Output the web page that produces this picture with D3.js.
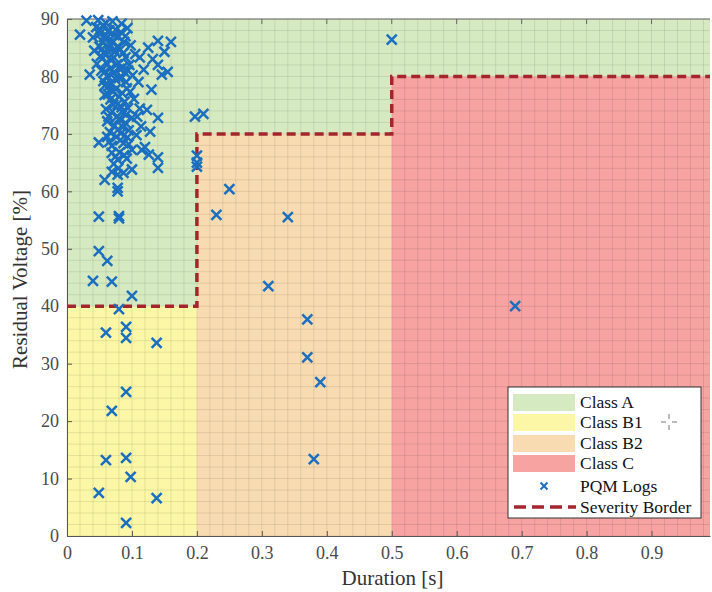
<!DOCTYPE html>
<html>
<head>
<meta charset="utf-8">
<script src="https://cdn.jsdelivr.net/npm/d3@7"></script>
<style>
  body { margin: 0; background: #fff; }
  svg text { font-family: "Liberation Serif", "Times New Roman", serif; }
</style>
</head>
<body>
<svg id="chart" width="712" height="592"></svg>
<script>
// class regions, [x0, x1, y0, y1] in data units
const classNames = ["Class A", "Class B1", "Class B2", "Class C"];
const classColors = ["#d6eac1", "#fbf7a6", "#f8dbb0", "#f6a3a2"];
const classRegions = [
    [[0, 0.2, 40, 90], [0.2, 0.5, 70, 90], [0.5, 0.99, 80, 90]],
    [[0, 0.2, 0, 40]],
    [[0.2, 0.5, 0, 70]],
    [[0.5, 0.99, 0, 80]]
];

// severity border (duration s, residual voltage %)
const borderX = [0, 0.2, 0.2, 0.5, 0.5, 0.99];
const borderY = [40, 40, 70, 70, 80, 80];

const xTicks = [0, 0.1, 0.2, 0.3, 0.4, 0.5, 0.6, 0.7, 0.8, 0.9];
const yTicks = [0, 10, 20, 30, 40, 50, 60, 70, 80, 90];

// PQM logs [duration, residual voltage]
const pqmLogs = [
    [0.02, 87.3], [0.03, 89.7], [0.035, 80.3], [0.04, 86.8], [0.042, 84.5], [0.045, 88.6], [0.046, 82.2], [0.048, 89.8],
    [0.05, 87.4], [0.05, 85.2], [0.052, 83.6], [0.053, 81.0], [0.055, 88.9], [0.055, 86.1], [0.056, 79.2], [0.057, 84.0],
    [0.058, 76.8], [0.06, 89.3], [0.06, 82.4], [0.06, 74.3], [0.061, 86.7], [0.062, 80.1], [0.062, 72.2], [0.064, 84.9],
    [0.065, 78.4], [0.065, 88.0], [0.066, 70.3], [0.067, 76.0], [0.068, 82.8], [0.069, 67.9], [0.07, 89.6], [0.07, 86.2],
    [0.07, 73.9], [0.071, 80.6], [0.072, 64.8], [0.073, 71.4], [0.074, 84.3], [0.075, 77.8], [0.075, 88.1], [0.076, 69.5],
    [0.077, 82.1], [0.078, 75.2], [0.078, 62.9], [0.079, 86.9], [0.08, 72.6], [0.08, 79.7], [0.081, 66.8], [0.082, 84.7],
    [0.083, 70.1], [0.084, 89.2], [0.085, 77.1], [0.085, 73.8], [0.086, 81.6], [0.087, 68.4], [0.088, 86.0], [0.089, 75.6],
    [0.09, 71.9], [0.09, 83.3], [0.091, 79.0], [0.092, 65.7], [0.093, 88.4], [0.094, 74.5], [0.095, 70.6], [0.096, 82.0],
    [0.097, 77.3], [0.098, 85.4], [0.1, 72.8], [0.1, 67.2], [0.101, 80.2], [0.103, 76.1], [0.105, 83.9], [0.107, 69.8],
    [0.11, 79.0], [0.112, 74.4], [0.114, 71.3], [0.118, 81.2], [0.12, 67.7],
    [0.051, 88.2], [0.054, 84.8], [0.057, 86.9], [0.059, 80.9], [0.063, 87.8], [0.066, 85.6], [0.067, 81.4], [0.068, 78.9],
    [0.071, 75.1], [0.072, 83.3], [0.073, 87.2], [0.074, 79.6], [0.076, 72.9], [0.077, 85.1], [0.079, 70.8], [0.08, 76.5],
    [0.081, 81.3], [0.082, 68.9], [0.083, 87.7], [0.084, 74.6], [0.085, 79.8], [0.086, 71.2], [0.087, 84.1], [0.088, 66.3],
    [0.089, 80.7], [0.09, 87.0], [0.091, 73.3], [0.092, 77.9], [0.093, 69.4], [0.094, 81.0], [0.063, 76.9], [0.064, 73.0],
    [0.065, 68.6], [0.07, 77.4], [0.058, 78.4], [0.061, 83.9], [0.075, 66.1], [0.079, 64.0], [0.087, 63.2], [0.095, 68.2],
    [0.112, 83.3], [0.125, 85.0], [0.132, 83.0], [0.14, 86.2], [0.14, 82.0], [0.15, 84.3], [0.16, 86.0], [0.155, 80.8],
    [0.146, 80.3], [0.13, 77.7], [0.123, 74.2], [0.108, 73.0], [0.14, 72.8], [0.128, 70.4], [0.115, 67.2], [0.126, 66.4],
    [0.14, 65.9], [0.14, 64.1], [0.10, 63.8], [0.062, 69.5], [0.049, 68.5], [0.069, 66.7], [0.078, 65.5], [0.069, 63.4],
    [0.058, 62.0], [0.078, 60.6], [0.078, 60.0], [0.049, 55.6], [0.08, 55.7], [0.08, 55.3],
    [0.049, 49.6], [0.062, 47.9], [0.04, 44.4], [0.069, 44.3], [0.10, 41.8], [0.08, 39.5],
    [0.06, 35.4], [0.091, 36.4], [0.091, 34.5], [0.138, 33.6], [0.091, 25.1], [0.069, 21.8],
    [0.06, 13.2], [0.091, 13.6], [0.098, 10.3], [0.049, 7.5], [0.138, 6.6], [0.091, 2.3],
    [0.197, 73.0], [0.21, 73.5], [0.2, 66.2], [0.2, 65.0], [0.2, 64.3],
    [0.25, 60.4], [0.23, 55.9], [0.34, 55.5], [0.31, 43.5], [0.37, 37.7], [0.37, 31.1],
    [0.39, 26.8], [0.38, 13.4], [0.5, 86.4], [0.69, 40.0]
];

const svg = d3.select("#chart");
const margin = {left: 67, top: 19, right: 2, bottom: 56};
const W = 712, H = 592;
const serif = "'Liberation Serif', 'Times New Roman', serif";

const x = d3.scaleLinear().domain([0, 0.99]).range([margin.left, W - margin.right]);
const y = d3.scaleLinear().domain([0, 90]).range([H - margin.bottom, margin.top]);

svg.append("rect").attr("width", W).attr("height", H).attr("fill", "#fff");

//regions
const regionGroup = svg.append("g").attr("class", "regions");
classRegions.forEach((rects, i) => {
    regionGroup.selectAll(`.r${i}`)
        .data(rects)
    .join("rect")
        .attr("x", d => x(d[0]))
        .attr("y", d => y(d[3]))
        .attr("width", d => x(d[1]) - x(d[0]))
        .attr("height", d => y(d[2]) - y(d[3]))
        .attr("fill", classColors[i]);
});

//grid, minor every 0.02 / 2, major every 0.1 / 10
const minorX = d3.range(0, 99, 2).map(v => v / 100);
const minorY = d3.range(0, 91, 2);
const grid = svg.append("g").attr("class", "grid");
grid.selectAll(".mx")
    .data(minorX)
.join("line")
    .attr("x1", d => x(d)).attr("x2", d => x(d))
    .attr("y1", y(0)).attr("y2", y(90))
    .attr("stroke", "rgba(0,0,0,0.09)")
    .attr("stroke-width", 1);
grid.selectAll(".my")
    .data(minorY)
.join("line")
    .attr("x1", x(0)).attr("x2", x(0.99))
    .attr("y1", d => y(d)).attr("y2", d => y(d))
    .attr("stroke", "rgba(0,0,0,0.09)")
    .attr("stroke-width", 1);

//axes
const xAxis = svg.append("g")
    .attr("transform", `translate(0,${y(0)})`)
    .call(d3.axisBottom(x).tickValues(xTicks).tickSizeInner(-5).tickSizeOuter(0)
        .tickFormat(d => d === 0 ? "0" : d3.format(".1f")(d)).tickPadding(9));
const yAxis = svg.append("g")
    .attr("transform", `translate(${x(0)},0)`)
    .call(d3.axisLeft(y).tickValues(yTicks).tickSizeInner(-5).tickSizeOuter(0).tickPadding(8));
[xAxis, yAxis].forEach(a => {
    a.attr("font-family", serif);
    a.select(".domain").attr("stroke", "#555");
    a.selectAll(".tick line").attr("stroke", "#555");
    a.selectAll(".tick text")
        .attr("fill", "#4a4a4a")
        .style("font-size", "18px")
        .style("font-family", serif);
});
xAxis.selectAll(".tick text").attr("dy", "0.8em");
// top frame
svg.append("line")
    .attr("x1", x(0)).attr("x2", x(0.99))
    .attr("y1", y(90)).attr("y2", y(90))
    .attr("stroke", "#666");
svg.selectAll(".ttick")
    .data(xTicks.slice(1))
.join("line")
    .attr("x1", d => x(d)).attr("x2", d => x(d))
    .attr("y1", y(90)).attr("y2", y(90) + 5)
    .attr("stroke", "#666");

//severity border
const border = borderX.map((v, i) => [v, borderY[i]]);
svg.append("path")
    .datum(border)
    .attr("d", d3.line().x(d => x(d[0])).y(d => y(d[1])))
    .attr("fill", "none")
    .attr("stroke", "#a3262d")
    .attr("stroke-width", 3.5)
    .attr("stroke-dasharray", "9,5");

//PQM log markers
const cross = s => `M${-s},${-s}L${s},${s}M${-s},${s}L${s},${-s}`;
svg.append("g")
    .selectAll("path")
    .data(pqmLogs)
.join("path")
    .attr("transform", d => `translate(${x(d[0])},${y(d[1])})`)
    .attr("d", cross(5))
    .attr("stroke", "#1b6fc0")
    .attr("stroke-width", 2.5)
    .attr("fill", "none");

//legend
const lg = svg.append("g").attr("transform", "translate(508,387)");
lg.append("rect")
    .attr("width", 193).attr("height", 131)
    .attr("fill", "#fff").attr("stroke", "#333").attr("stroke-width", 1);
const rowY = [15, 35, 56, 76, 99, 120];
classNames.forEach((name, i) => {
    lg.append("rect")
        .attr("x", 5).attr("y", rowY[i] - 8)
        .attr("width", 62).attr("height", 17)
        .attr("fill", classColors[i]);
});
const legendLabels = classNames.concat(["PQM Logs", "Severity Border"]);
lg.selectAll("text")
    .data(legendLabels)
.join("text")
    .attr("x", 72)
    .attr("y", (d, i) => rowY[i])
    .attr("dy", "0.35em")
    .attr("fill", "#111")
    .style("font-size", "17.5px")
    .style("font-family", serif)
    .text(d => d);
lg.append("path")
    .attr("transform", `translate(36,${rowY[4]})`)
    .attr("d", cross(3.5))
    .attr("stroke", "#1b6fc0").attr("stroke-width", 2);
lg.append("line")
    .attr("x1", 6).attr("x2", 68)
    .attr("y1", rowY[5]).attr("y2", rowY[5])
    .attr("stroke", "#a3262d").attr("stroke-width", 3.5)
    .attr("stroke-dasharray", "12,6");

// small cursor mark inside the legend
const cur = svg.append("g").attr("transform", "translate(669,422)").attr("stroke", "#777").attr("stroke-width", 1);
cur.append("line").attr("x1", -8).attr("x2", -3).attr("y1", 0).attr("y2", 0);
cur.append("line").attr("x1", 3).attr("x2", 8).attr("y1", 0).attr("y2", 0);
cur.append("line").attr("x1", 0).attr("x2", 0).attr("y1", -8).attr("y2", -3);
cur.append("line").attr("x1", 0).attr("x2", 0).attr("y1", 3).attr("y2", 8);

//axis labels
svg.append("text")
    .attr("x", (x(0) + x(0.99)) / 2 + 4)
    .attr("y", 585)
    .attr("text-anchor", "middle")
    .attr("fill", "#333")
    .style("font-size", "21px")
    .style("font-family", serif)
    .text("Duration [s]");
svg.append("text")
    .attr("transform", `translate(27,${y(45) + 2}) rotate(-90)`)
    .attr("text-anchor", "middle")
    .attr("fill", "#333")
    .style("font-size", "21px")
    .style("font-family", serif)
    .text("Residual Voltage [%]");
</script>
</body>
</html>
